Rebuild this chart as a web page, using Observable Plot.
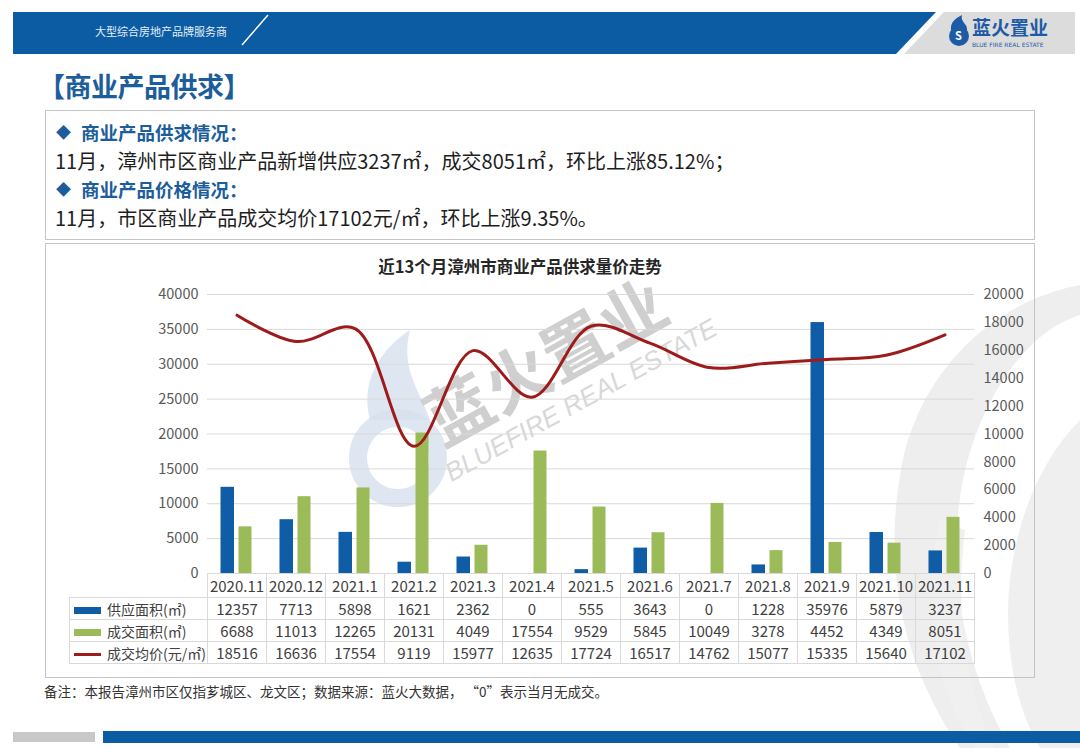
<!DOCTYPE html>
<html><head><meta charset="utf-8">
<script src="https://cdn.jsdelivr.net/npm/d3@7"></script>
<script src="https://cdn.jsdelivr.net/npm/@observablehq/plot@0.6"></script>
<style>
body{margin:0;background:#fff;}
#slide{position:relative;width:1080px;height:748px;overflow:hidden;background:#fff;font-family:"Noto Sans CJK SC","Noto Sans",sans-serif;color:#222;}
.abs{position:absolute;}
#title{left:38px;top:66px;font-size:27px;font-weight:bold;color:#1c5d9c;letter-spacing:-0.5px;}
#box1{left:45px;top:110px;width:988px;height:128px;border:1px solid #c4c4c4;}
#box2{left:45px;top:243px;width:988px;height:433px;border:1px solid #c4c4c4;}
.head{font-size:18.5px;font-weight:bold;color:#1c5d9c;white-space:nowrap;}
.head .dia{font-size:15px;margin-right:10px;position:relative;top:-2px;}
.line{font-size:20px;color:#1e1e1e;white-space:nowrap;}
#ctitle{left:45px;width:950px;top:254px;text-align:center;font-size:16.5px;font-weight:bold;color:#262626;}
#chart{left:45px;top:280px;}
#tbl{left:69px;top:573px;border-collapse:collapse;table-layout:fixed;font-size:15px;color:#404040;}
#tbl td{border:1px solid #d9d9d9;padding:0;text-align:center;white-space:nowrap;overflow:hidden;}
#tbl td.blank{border-top:none;border-left:none;}
#tbl td.lab{text-align:left;font-size:14px;}
.sw{display:inline-block;width:27px;margin:0 6px 0 4px;vertical-align:middle;}
#note{left:44px;top:681px;font-size:13.5px;color:#333;white-space:nowrap;}
.wm{color:#bfbfbf;white-space:nowrap;transform-origin:center center;}
</style></head>
<body><div id="slide">
<svg class="abs" style="left:0;top:0" width="1080" height="748">
  <!-- background decorations -->
  <path d="M1080 285 C1000 300 930 360 905 450 C880 560 900 660 960 748 L1010 748 C960 660 945 560 965 470 C985 390 1030 330 1080 315 Z" fill="#eeeeee"/>
  <path d="M1080 420 C1030 470 1000 560 1010 650 C1015 700 1030 730 1040 748 L1080 748 Z" fill="#efefef"/>
  <path d="M940 520 C920 600 935 690 975 748 L995 748 C965 690 955 610 965 530 Z" fill="#f0f0f0"/>
  <circle cx="398" cy="458" r="40" fill="none" stroke="#d6e1ee" stroke-width="18" opacity="0.8"/>
  <path d="M370 420 C360 380 380 350 410 330 C400 370 420 390 430 420 Z" fill="#d6e1ee" opacity="0.8"/>
  <!-- header -->
  <polygon points="13,12 936,12 896,54 13,54" fill="#0b5ca2"/>
  <polygon points="944,12 1075,12 1075,54 904,54" fill="#dcdcdc"/>
  <line x1="242" y1="45" x2="268" y2="15" stroke="#ffffff" stroke-width="1.5"/>
  <text x="95" y="36" font-size="11" fill="#e6eef6">大型综合房地产品牌服务商</text>
  <circle cx="959" cy="36" r="10" fill="#1e5ba6"/>
  <path d="M951 30 C950 22 956 18 962 15 C960 22 968 24 967 30 Z" fill="#1e5ba6"/>
  <text x="955" y="40" font-size="11" font-weight="bold" fill="#fff">S</text>
  <text x="972" y="35" font-size="19" font-weight="bold" fill="#1e5ba6">蓝火置业</text>
  <text x="972" y="46.5" font-size="6" fill="#1e5ba6" font-family="DejaVu Sans">BLUE FIRE REAL ESTATE</text>
  <!-- footer -->
  <rect x="13" y="732" width="82" height="10" fill="#c8c8c8"/>
  <rect x="103" y="731" width="977" height="12" fill="#0b5ca2"/>
</svg>
<div id="title" class="abs">【商业产品供求】</div>
<div id="box1" class="abs"></div>
<div class="abs head" style="left:56px;top:119px;"><span class="dia">◆</span>商业产品供求情况：</div>
<div class="abs line" style="left:55px;top:146px;">11月，漳州市区商业产品新增供应3237㎡，成交8051㎡，环比上涨85.12%；</div>
<div class="abs head" style="left:56px;top:176px;"><span class="dia">◆</span>商业产品价格情况：</div>
<div class="abs line" style="left:55px;top:203px;">11月，市区商业产品成交均价17102元/㎡，环比上涨9.35%。</div>
<div id="box2" class="abs"></div>
<div class="abs wm" style="left:412px;top:310px;font-size:66px;font-weight:bold;transform:rotate(-29deg);opacity:0.75;">蓝火置业</div>
<div class="abs wm" style="left:428px;top:385px;font-size:26px;font-style:italic;font-family:'Liberation Sans',sans-serif;transform:rotate(-29deg);opacity:0.6;">BLUEFIRE REAL ESTATE</div>
<div id="ctitle" class="abs">近13个月漳州市商业产品供求量价走势</div>
<div id="chart" class="abs"></div>
<table id="tbl" class="abs"></table>
<div id="note" class="abs">备注：本报告漳州市区仅指芗城区、龙文区；数据来源：蓝火大数据， “0”表示当月无成交。</div>
</div>
<script>
const months = ["2020.11","2020.12","2021.1","2021.2","2021.3","2021.4","2021.5","2021.6","2021.7","2021.8","2021.9","2021.10","2021.11"];
const supply = [12357,7713,5898,1621,2362,0,555,3643,0,1228,35976,5879,3237];
const deal = [6688,11013,12265,20131,4049,17554,9529,5845,10049,3278,4452,4349,8051];
const price = [18516,16636,17554,9119,15977,12635,17724,16517,14762,15077,15335,15640,17102];
const seriesNames = ["供应面积(㎡)","成交面积(㎡)","成交均价(元/㎡)"];
const leftTicks = [0,5000,10000,15000,20000,25000,30000,35000,40000];
const rightTicks = [0,2000,4000,6000,8000,10000,12000,14000,16000,18000,20000];

const BLUE = "#0f5da6", GREEN = "#9bbb59", RED = "#9e1b1b";
const ratio = 40000 / 20000;
const data = months.map((m, i) => ({month: m, supply: supply[i], deal: deal[i], price: price[i]}));

const chart = Plot.plot({
  width: 990, height: 300,
  marginLeft: 162, marginRight: 61, marginTop: 14, marginBottom: 7,
  style: {fontFamily: '"Noto Sans CJK SC", sans-serif', fontSize: "14.5px", color: "#595959", background: "transparent", overflow: "visible"},
  x: {type: "band", domain: months, padding: 0, axis: null},
  y: {domain: [0, 40000], axis: null},
  marks: [
    Plot.gridY(leftTicks, {stroke: "#d9d9d9", strokeOpacity: 1}),
    Plot.barY(data, {x: "month", y: "supply", fill: BLUE, insetLeft: 13.5, insetRight: 32}),
    Plot.barY(data, {x: "month", y: "deal", fill: GREEN, insetLeft: 31.5, insetRight: 14.5}),
    Plot.line(data, {x: "month", y: d => d.price * ratio, curve: "catmull-rom", stroke: RED, strokeWidth: 3}),
    Plot.axisY(leftTicks, {anchor: "left", tickSize: 0, tickPadding: 9, tickFormat: d => String(d)}),
    Plot.axisY(rightTicks.map(v => v * ratio), {anchor: "right", tickSize: 0, tickPadding: 9, tickFormat: d => String(d / ratio)})
  ]
});
document.getElementById("chart").appendChild(chart);

// data table aligned with the band scale
const xs = chart.scale("x");
const colW = xs.bandwidth;
const tbl = document.getElementById("tbl");
let html = `<colgroup><col style="width:138px">${months.map(() => `<col style="width:${colW}px">`).join("")}</colgroup>`;
html += `<tr style="height:24px"><td class="blank"></td>${months.map(m => `<td>${m}</td>`).join("")}</tr>`;
const rows = [
  {name: seriesNames[0], vals: supply, sw: `<span class="sw" style="height:7px;background:${BLUE}"></span>`},
  {name: seriesNames[1], vals: deal, sw: `<span class="sw" style="height:7px;background:${GREEN}"></span>`},
  {name: seriesNames[2], vals: price, sw: `<span class="sw" style="height:3px;background:${RED}"></span>`}
];
const hts = [22, 21, 22];
rows.forEach((r, k) => {
  html += `<tr style="height:${hts[k]}px"><td class="lab">${r.sw}${r.name}</td>${r.vals.map(v => `<td>${v}</td>`).join("")}</tr>`;
});
tbl.innerHTML = html;
</script>
</body></html>
